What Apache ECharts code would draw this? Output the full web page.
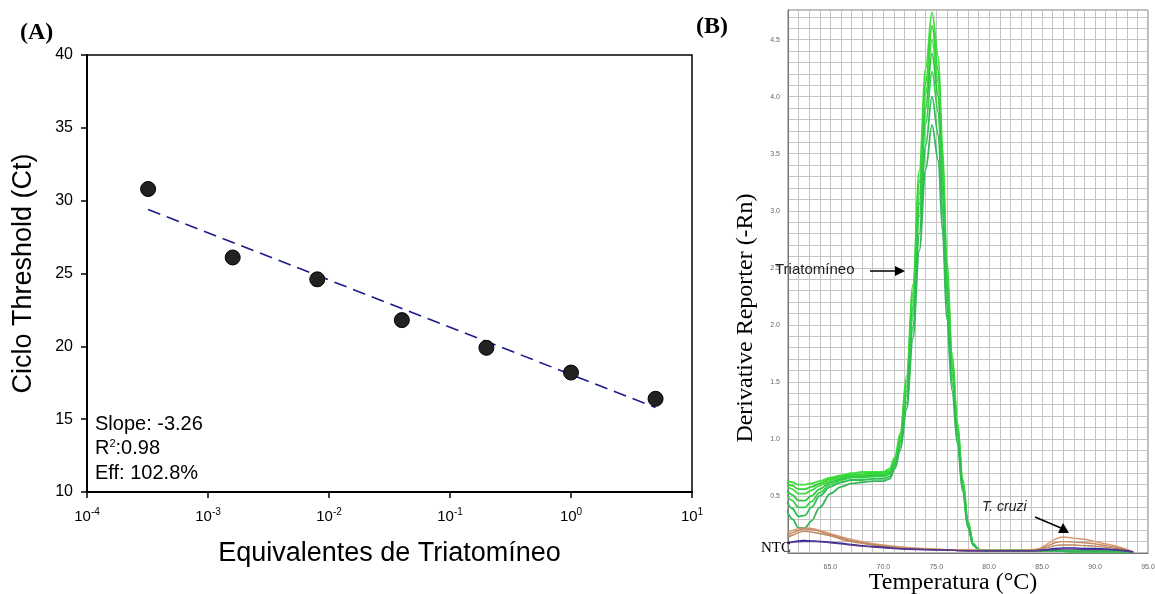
<!DOCTYPE html>
<html>
<head>
<meta charset="utf-8">
<script src="https://cdn.jsdelivr.net/npm/echarts@6/dist/echarts.min.js"></script>
<style>
  html, body { margin: 0; padding: 0; background: #fff; }
  #main { width: 1155px; height: 594px; }
</style>
</head>
<body>
<div id="main"></div>
<script>
var chart = echarts.init(document.getElementById('main'));

// (A) curva padrao
var dilutions = [0.00032, 0.0016, 0.008, 0.04, 0.2, 1, 5];
var ctValues = [30.8, 26.1, 24.6, 21.8, 19.9, 18.2, 16.4];
// reta de regressao (extremos)
var trendX = [0.00032, 5];
var trendY = [29.4, 15.8];

// (B) curvas de melting
var temps = [60.8, 61.4, 62.0, 62.6, 63.2, 64.0, 65.0, 66.0, 67.0, 68.0, 69.0, 70.0, 70.6, 71.1, 71.6, 72.2,
    72.8, 73.4, 74.0, 74.6, 75.2, 75.6, 76.0, 76.5, 77.0, 77.5, 78.0, 78.5, 79.0, 80.0, 82.0, 84.0, 85.0,
    86.0, 88.0, 90.0, 92.0, 93.6];
var tria1 = [0.64, 0.62, 0.60, 0.60, 0.61, 0.63, 0.66, 0.68, 0.70, 0.71, 0.71, 0.71, 0.74, 0.84, 1.05, 1.55, 2.35, 3.35, 4.25, 4.74, 4.35, 3.55, 2.55, 1.75, 1.15, 0.65, 0.28, 0.08, 0.03, 0.02, 0.02, 0.02, 0.02, 0.02, 0.015, 0.015, 0.015, 0.01];
var tria2 = [0.62, 0.59, 0.56, 0.56, 0.58, 0.61, 0.65, 0.67, 0.69, 0.69, 0.70, 0.70, 0.72, 0.82, 1.02, 1.50, 2.28, 3.25, 4.12, 4.62, 4.22, 3.45, 2.48, 1.70, 1.12, 0.63, 0.27, 0.08, 0.03, 0.02, 0.02, 0.02, 0.02, 0.02, 0.015, 0.015, 0.015, 0.01];
var tria3 = [0.60, 0.56, 0.52, 0.52, 0.55, 0.59, 0.64, 0.66, 0.68, 0.68, 0.69, 0.69, 0.71, 0.80, 1.00, 1.46, 2.22, 3.15, 4.02, 4.50, 4.12, 3.36, 2.42, 1.66, 1.10, 0.62, 0.26, 0.08, 0.03, 0.02, 0.02, 0.02, 0.02, 0.02, 0.015, 0.015, 0.015, 0.01];
var tria4 = [0.56, 0.51, 0.46, 0.46, 0.50, 0.56, 0.62, 0.65, 0.67, 0.67, 0.68, 0.68, 0.70, 0.79, 0.98, 1.42, 2.15, 3.06, 3.90, 4.38, 4.00, 3.28, 2.36, 1.62, 1.07, 0.60, 0.25, 0.07, 0.03, 0.02, 0.02, 0.02, 0.02, 0.02, 0.015, 0.015, 0.015, 0.01];
var tria5 = [0.52, 0.46, 0.40, 0.40, 0.45, 0.53, 0.60, 0.64, 0.66, 0.66, 0.67, 0.67, 0.69, 0.78, 0.96, 1.38, 2.08, 2.95, 3.76, 4.22, 3.86, 3.16, 2.28, 1.56, 1.04, 0.58, 0.24, 0.07, 0.03, 0.02, 0.02, 0.02, 0.02, 0.02, 0.015, 0.015, 0.015, 0.01];
var tria6 = [0.47, 0.39, 0.32, 0.33, 0.40, 0.50, 0.58, 0.62, 0.64, 0.64, 0.65, 0.65, 0.67, 0.76, 0.93, 1.32, 1.98, 2.80, 3.57, 4.00, 3.66, 3.00, 2.17, 1.49, 1.00, 0.56, 0.23, 0.07, 0.03, 0.02, 0.02, 0.02, 0.02, 0.02, 0.015, 0.015, 0.015, 0.01];
var tria7 = [0.40, 0.30, 0.22, 0.22, 0.28, 0.40, 0.52, 0.58, 0.61, 0.62, 0.63, 0.63, 0.65, 0.74, 0.90, 1.26, 1.88, 2.65, 3.36, 3.75, 3.44, 2.82, 2.05, 1.42, 0.96, 0.54, 0.22, 0.07, 0.03, 0.02, 0.02, 0.02, 0.02, 0.02, 0.015, 0.015, 0.015, 0.01];
var triaColors = ['#3fe03a', '#2fd42f', '#46dc46', '#28c83a', '#38d04a', '#2fbf55', '#35b85a'];

// T. cruzi e NTC
var tempsLow = [60.8, 61.5, 62.5, 63.5, 65, 66.5, 68, 70, 72, 74, 76, 78, 80, 82, 84, 84.8, 85.5, 86.2, 87,
    88, 89, 90, 91, 92, 93, 93.6];
var cruzi1 = [0.17, 0.20, 0.22, 0.21, 0.17, 0.13, 0.10, 0.07, 0.05, 0.04, 0.03, 0.03, 0.025, 0.025, 0.03, 0.04, 0.08, 0.12, 0.14, 0.13, 0.12, 0.10, 0.08, 0.06, 0.03, 0.01];
var cruzi2 = [0.15, 0.18, 0.21, 0.20, 0.16, 0.12, 0.09, 0.06, 0.045, 0.035, 0.03, 0.025, 0.02, 0.02, 0.025, 0.035, 0.06, 0.09, 0.10, 0.095, 0.09, 0.08, 0.065, 0.05, 0.03, 0.01];
var cruzi3 = [0.13, 0.16, 0.19, 0.18, 0.15, 0.11, 0.085, 0.06, 0.04, 0.03, 0.025, 0.02, 0.02, 0.02, 0.02, 0.03, 0.045, 0.065, 0.07, 0.07, 0.065, 0.06, 0.05, 0.04, 0.025, 0.01];
var ntc1 = [0.09, 0.10, 0.11, 0.105, 0.095, 0.08, 0.065, 0.05, 0.035, 0.03, 0.025, 0.02, 0.02, 0.02, 0.02, 0.025, 0.03, 0.04, 0.045, 0.045, 0.04, 0.04, 0.035, 0.03, 0.02, 0.01];
var ntc2 = [0.08, 0.095, 0.10, 0.10, 0.09, 0.075, 0.06, 0.045, 0.035, 0.03, 0.025, 0.02, 0.02, 0.02, 0.02, 0.02, 0.025, 0.03, 0.035, 0.035, 0.03, 0.03, 0.03, 0.025, 0.015, 0.01];
var cruziColors = ['#d99670', '#c98660', '#b9875c'];
var ntcColors = ['#2a2a9c', '#5a3a8c'];

function zip(xs, ys) {
    var r = [];
    for (var i = 0; i < xs.length; i++) r.push([xs[i], ys[i]]);
    return r;
}

var series = [
    {
        type: 'line', xAxisIndex: 0, yAxisIndex: 0,
        data: zip(trendX, trendY),
        symbol: 'none',
        lineStyle: { color: '#1c1c8a', width: 1.6, type: [13, 7] },
        z: 2
    },
    {
        type: 'scatter', xAxisIndex: 0, yAxisIndex: 0,
        data: zip(dilutions, ctValues),
        symbolSize: 15,
        itemStyle: { color: '#222', borderColor: '#000', borderWidth: 1, opacity: 1 },
        z: 3
    }
];

[tria1, tria2, tria3, tria4, tria5, tria6, tria7].forEach(function (d, i) {
    series.push({
        type: 'line', xAxisIndex: 1, yAxisIndex: 1,
        data: zip(temps, d),
        symbol: 'none', smooth: 0.35, smoothMonotone: 'x',
        lineStyle: { color: triaColors[i], width: 1.8 }
    });
});
[cruzi1, cruzi2, cruzi3].forEach(function (d, i) {
    series.push({
        type: 'line', xAxisIndex: 1, yAxisIndex: 1,
        data: zip(tempsLow, d),
        symbol: 'none', smooth: 0.35,
        lineStyle: { color: cruziColors[i], width: 1.4 }
    });
});
[ntc1, ntc2].forEach(function (d, i) {
    series.push({
        type: 'line', xAxisIndex: 1, yAxisIndex: 1,
        data: zip(tempsLow, d),
        symbol: 'none', smooth: 0.35,
        lineStyle: { color: ntcColors[i], width: 1.4 }
    });
});

var sans = 'Liberation Sans, Arial, sans-serif';
var serif = 'Liberation Serif, Times New Roman, serif';

var option = {
    backgroundColor: '#fff',
    animation: false,
    grid: [
        { left: 87, top: 55, width: 605, height: 437, outerBoundsMode: 'none', show: true, borderColor: '#000', borderWidth: 1.5, backgroundColor: 'transparent' },
        { left: 788, top: 10, width: 360, height: 543, outerBoundsMode: 'none', show: true, borderColor: '#777', borderWidth: 1, backgroundColor: '#fff' }
    ],
    xAxis: [
        {
            gridIndex: 0, type: 'log', logBase: 10, min: 0.0001, max: 10,
            name: 'Equivalentes de Triatomíneo', nameLocation: 'middle', nameGap: 48,
            nameTextStyle: { fontFamily: sans, fontSize: 27, color: '#000' },
            axisLine: { lineStyle: { color: '#000', width: 2 } },
            axisTick: { show: true, length: 6, lineStyle: { color: '#000', width: 1.5 } },
            splitLine: { show: false },
            axisLabel: {
                margin: 14,
                formatter: function (v) {
                    var e = Math.round(Math.log10(v));
                    return '{b|10}{s|' + e + '}';
                },
                rich: {
                    b: { fontFamily: sans, fontSize: 15, color: '#000', verticalAlign: 'bottom', lineHeight: 18 },
                    s: { fontFamily: sans, fontSize: 10, color: '#000', verticalAlign: 'bottom', lineHeight: 18, padding: [0, 0, 7, 0] }
                }
            }
        },
        {
            gridIndex: 1, type: 'value', min: 61, max: 95, interval: 1,
            axisLine: { lineStyle: { color: '#777', width: 1 } },
            axisTick: { show: false },
            splitLine: { show: true, lineStyle: { color: '#c4c4c4', width: 1 } },
            axisLabel: {
                margin: 11, fontFamily: sans, fontSize: 7, color: '#666', showMaxLabel: true,
                formatter: function (v) { return v % 5 === 0 ? v.toFixed(1) : ''; }
            }
        }
    ],
    yAxis: [
        {
            gridIndex: 0, type: 'value', min: 10, max: 40, interval: 5,
            name: 'Ciclo Threshold (Ct)', nameLocation: 'middle', nameGap: 50,
            nameTextStyle: { fontFamily: sans, fontSize: 27, color: '#000' },
            axisLine: { show: true, lineStyle: { color: '#000', width: 2 } },
            axisTick: { show: true, length: 6, lineStyle: { color: '#000', width: 1.5 } },
            splitLine: { show: false },
            axisLabel: { margin: 14, fontFamily: sans, fontSize: 16, color: '#000' }
        },
        {
            gridIndex: 1, type: 'value', min: 0, max: 4.76, interval: 0.1,
            axisLine: { show: true, lineStyle: { color: '#777', width: 1 } },
            axisTick: { show: false },
            splitLine: { show: true, lineStyle: { color: '#c4c4c4', width: 1 } },
            axisLabel: {
                margin: 8, fontFamily: sans, fontSize: 7, color: '#666', showMaxLabel: false,
                formatter: function (v) {
                    var k = Math.round(v * 10);
                    return (k > 0 && k % 5 === 0) ? v.toFixed(1) : '';
                }
            }
        }
    ],
    graphic: [
        { type: 'text', left: 20, top: 21, style: { text: '(A)', font: 'bold 24px ' + serif, fill: '#000' } },
        { type: 'text', left: 696, top: 15, style: { text: '(B)', font: 'bold 24px ' + serif, fill: '#000' } },
        {
            type: 'text', left: 95, top: 414,
            style: {
                text: '{t|Slope: -3.26}\n{t|R}{u|2}{t|:0.98}\n{t|Eff: 102.8%}',
                rich: {
                    t: { fontFamily: sans, fontSize: 20, color: '#000', lineHeight: 24.5, verticalAlign: 'bottom' },
                    u: { fontFamily: sans, fontSize: 11, color: '#000', lineHeight: 24.5, verticalAlign: 'bottom', padding: [0, 0, 9, 0] }
                }
            }
        },
        // titulos dos eixos do painel B
        {
            type: 'text', x: 746, y: 318, rotation: Math.PI / 2,
            style: { text: 'Derivative Reporter (-Rn)', font: '24px ' + serif, fill: '#000', align: 'center', verticalAlign: 'middle' }
        },
        {
            type: 'text', x: 953, y: 583,
            style: { text: 'Temperatura (°C)', font: '24px ' + serif, fill: '#000', align: 'center', verticalAlign: 'middle' }
        },
        { type: 'text', left: 775, top: 262, z: 10, style: { text: 'Triatomíneo', font: '15px ' + sans, fill: '#222' } },
        { type: 'line', z: 10, shape: { x1: 870, y1: 271, x2: 897, y2: 271 }, style: { stroke: '#000', lineWidth: 1.5 } },
        { type: 'polygon', z: 10, shape: { points: [[905, 271], [895, 266], [895, 276]] }, style: { fill: '#000' } },
        { type: 'text', left: 982, top: 500, z: 10, style: { text: 'T. cruzi', font: 'italic 14px ' + sans, fill: '#222' } },
        { type: 'line', z: 10, shape: { x1: 1035, y1: 517, x2: 1061, y2: 528 }, style: { stroke: '#000', lineWidth: 1.5 } },
        { type: 'polygon', z: 10, shape: { points: [[1069, 533], [1058, 533], [1063, 523]] }, style: { fill: '#000' } },
        { type: 'text', left: 761, top: 541, z: 10, style: { text: 'NTC', font: '15px ' + serif, fill: '#000' } }
    ],
    series: series
};

chart.setOption(option);
</script>
</body>
</html>
